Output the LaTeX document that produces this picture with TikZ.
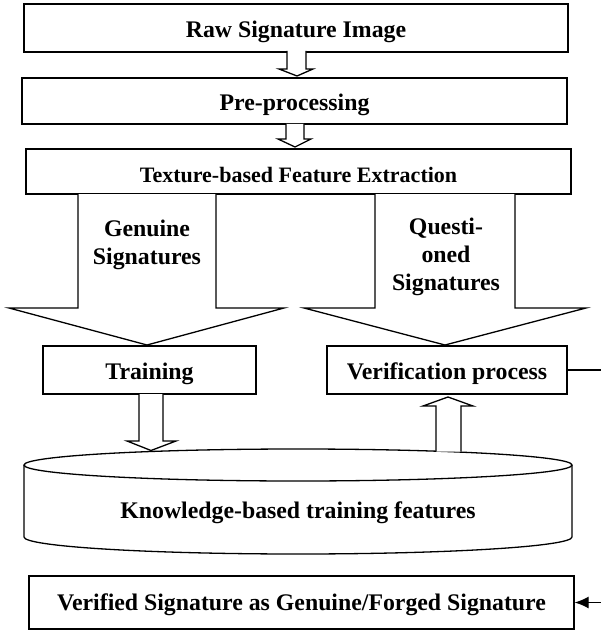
\documentclass[tikz,border=0pt]{standalone}
\usepackage{fontspec}
\setmainfont{Liberation Serif}
\usetikzlibrary{arrows.meta}
\newcommand{\lowtxt}[2][-4pt]{\raisebox{#1}[\height][\depth]{#2}}
\begin{document}
\begin{tikzpicture}[x=1pt,y=-1pt,
  line/.style={draw=black,line width=1.3pt,line join=miter},
  box/.style={line,rectangle,inner sep=0pt,font=\fontsize{23.8}{28}\selectfont\bfseries},
  lbl/.style={inner sep=0pt,align=center,font=\fontsize{23.8}{28}\selectfont\bfseries},
  blockarrow/.style={line,fill=white}]
\useasboundingbox (0,0) rectangle (600,631);
% boxes
\node[box,minimum width=544pt,minimum height=48pt] (raw) at (296,28) {\lowtxt{Raw Signature Image}};
\node[box,minimum width=545pt,minimum height=46pt] (pre) at (294.5,101) {\lowtxt{Pre-processing}};
\node[box,minimum width=545pt,minimum height=45pt,font=\fontsize{22}{26}\selectfont\bfseries] (tex) at (298.5,171.5) {\lowtxt{Texture-based Feature Extraction}};
\node[box,minimum width=213pt,minimum height=48pt] (train) at (149.5,370) {\lowtxt{Training}};
\node[box,minimum width=240pt,minimum height=48pt] (verif) at (447,370) {\lowtxt{Verification process}};
\node[box,minimum width=545pt,minimum height=53pt] (final) at (301.5,602.5) {\lowtxt[-2pt]{Verified Signature as Genuine/Forged Signature}};
% cylinder
\draw[line] (24,465) -- (24,537) arc[start angle=180,end angle=360,x radius=274pt,y radius=17pt] -- (572,465);
\draw[line] (298,465) ellipse[x radius=274pt,y radius=16pt];
\node[lbl] (kb) at (298,513) {Knowledge-based training features};
% small block arrows
\draw[blockarrow] (287,51) -- (287,69) -- (279,69) -- (297,76) -- (313,69) -- (306,69) -- (306,51);
\draw[blockarrow] (286,124) -- (286,139) -- (278,139) -- (295,147) -- (311,139) -- (304,139) -- (304,124);
% big block arrows
\draw[blockarrow] (78,194) -- (78,308) -- (9,308) -- (147,345) -- (284,308) -- (216,308) -- (216,194);
\draw[blockarrow] (375,194) -- (375,308) -- (304,308) -- (445,345) -- (586,308) -- (515,308) -- (515,194);
\node[lbl] (gen) at (147,245) {Genuine\\Signatures};
\node[lbl] (ques) at (446,257) {Questi-\\oned\\Signatures};
% training -> knowledge
\draw[blockarrow] (139,394) -- (139,441) -- (127,441) -- (151,450.5) -- (176,441) -- (163,441) -- (163,394);
% knowledge -> verification
\draw[blockarrow] (436,451.5) -- (436,406) -- (423,406) -- (448,397) -- (473,406) -- (461,406) -- (461,451.5);
% verification -> final
\draw[line,-{Latex[length=14pt,width=12pt]}] (verif.east) -- ++(45,0) |- (final.east);
\end{tikzpicture}
\end{document}
